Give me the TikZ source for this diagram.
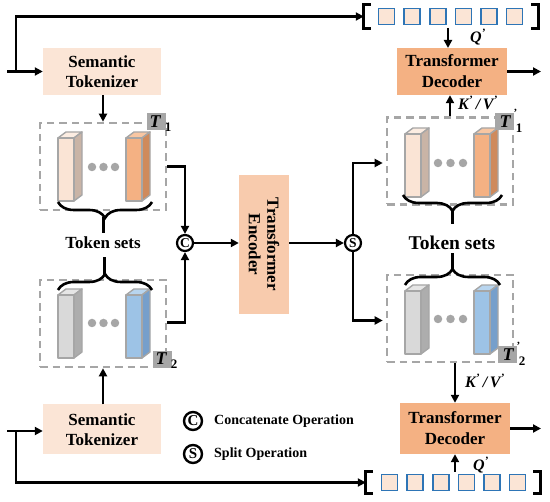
\documentclass[tikz,border=0pt]{standalone}
\usepackage{fontspec}
\setmainfont{Liberation Serif}
\usetikzlibrary{arrows.meta,decorations.pathreplacing,calc}
\definecolor{peach}{HTML}{FBE5D6}
\definecolor{encfill}{HTML}{F8CBAD}
\definecolor{decfill}{HTML}{F4B183}
\definecolor{dgray}{HTML}{A6A6A6}
\definecolor{sqblue}{HTML}{2E75B6}
\definecolor{lfront}{HTML}{FAE4D5}
\definecolor{lside}{HTML}{C9B4A6}
\definecolor{ltop}{HTML}{FCEDE2}
\definecolor{ofront}{HTML}{F4B183}
\definecolor{oside}{HTML}{CF8A5C}
\definecolor{otop}{HTML}{F8C6A2}
\definecolor{gfront}{HTML}{D9D9D9}
\definecolor{gside}{HTML}{ADADAD}
\definecolor{gtop}{HTML}{E6E6E6}
\definecolor{bfront}{HTML}{9DC3E6}
\definecolor{bside}{HTML}{769FCB}
\definecolor{btop}{HTML}{B8D5EF}
\newcommand{\tokbar}[5]{%
  \filldraw[barline, fill=#5] (#1,#2) -- ++(8,-6) -- ++(16,0) -- ++(-8,6) -- cycle;
  \filldraw[barline, fill=#4] (#1+16,#2) -- ++(8,-6) -- ++(0,63) -- ++(-8,6) -- cycle;
  \filldraw[barline, fill=#3] (#1,#2) rectangle ++(16,63);
}
\begin{document}
\begin{tikzpicture}[x=1pt,y=-1pt,
  conn/.style={line width=2.6pt, -{Triangle[length=8pt,width=8pt]}},
  plain/.style={line width=2.6pt},
  barline/.style={draw=dgray, line width=1.4pt, line join=round},
  tokbox/.style={fill=peach, minimum width=118pt, minimum height=47pt, inner sep=0pt, align=center,
     font=\bfseries\fontsize{17}{20}\selectfont},
  decbox/.style={fill=decfill, minimum width=110pt, minimum height=47pt, inner sep=0pt, align=center,
     font=\bfseries\fontsize{17}{21}\selectfont},
  dashbox/.style={draw=dgray, dash pattern=on 7.5pt off 5pt, line width=2.6pt, minimum width=126pt,
     minimum height=87pt, inner sep=0pt},
  opcirc/.style={circle, draw, line width=2.2pt, minimum size=16pt, inner sep=0pt,
     font=\bfseries\fontsize{13.5}{13.5}\selectfont},
  tgray/.style={fill=dgray, minimum width=19pt, minimum height=17pt, inner sep=0pt},
  tletter/.style={font=\bfseries\itshape\fontsize{18}{18}\selectfont, inner sep=0pt},
  tsub/.style={font=\bfseries\fontsize{13}{13}\selectfont, inner sep=0pt},
  tprime/.style={font=\bfseries\fontsize{11}{11}\selectfont, inner sep=0pt},
  kv/.style={font=\bfseries\itshape\fontsize{16}{16}\selectfont, inner sep=0pt},
  sq/.style={draw=sqblue, fill=peach, line width=1.6pt, minimum size=16pt, inner sep=0pt},
  brk/.style={line width=3.2pt},
  brc/.style={line width=2.6pt, decorate, decoration={brace, amplitude=16pt}},
  dot/.style={circle, fill=dgray, minimum size=8.5pt, inner sep=0pt},
  legtxt/.style={font=\bfseries\fontsize{14}{14}\selectfont, anchor=west, inner sep=0pt}
]
\useasboundingbox (0,0) rectangle (550,502);

% ---------- main boxes ----------
\node[tokbox] (tok1) at (102,71.5) {Semantic\\Tokenizer};
\node[tokbox, minimum height=50pt] (tok2) at (102,429.5) {Semantic\\Tokenizer};
\node[dashbox] (T1) at (103,166.5) {};
\node[dashbox] (T2) at (103,323.5) {};
\node[dashbox] (T1p) at (450,161) {};
\node[dashbox] (T2p) at (450,318.5) {};
\node[fill=encfill, minimum width=50pt, minimum height=139pt, inner sep=0pt] (enc) at (264,244.5) {};
\node[rotate=-90, align=center, font=\bfseries\fontsize{17}{18.5}\selectfont] (enctxt) at (enc.center) {Transformer\\Encoder};
\node[decbox] (dec1) at (452,71.5) {Transformer\\Decoder};
\node[decbox, minimum height=51pt] (dec2) at (455,428.5) {Transformer\\Decoder};
\node[opcirc] (cc) at (185,243) {C};
\node[opcirc] (ss) at (353,243) {S};

% ---------- bars ----------
\tokbar{58}{138}{lfront}{lside}{ltop}
\tokbar{126}{138}{ofront}{oside}{otop}
\tokbar{58}{295}{gfront}{gside}{gtop}
\tokbar{126}{295}{bfront}{bside}{btop}
\tokbar{405}{134}{lfront}{lside}{ltop}
\tokbar{474}{134}{ofront}{oside}{otop}
\tokbar{405}{291}{gfront}{gside}{gtop}
\tokbar{474}{291}{bfront}{bside}{btop}
\foreach \yy/\xx [count=\i] in {167/92,167/103.5,167/115,323/92,323/103.5,323/115,163/438,163/450.5,163/463,319/438,319/450.5,319/463}
  \node[dot] (dot\i) at (\xx,\yy) {};

% ---------- T labels ----------
\node[tgray] (t1g) at (156.5,121.5) {};
\node[tletter] (t1T) at (155,121.5) {T};
\node[tsub] (t1s) at (168,127) {1};
\node[tgray] (t2g) at (162,360) {};
\node[tletter] (t2T) at (161,358.5) {T};
\node[tsub] (t2s) at (174,364) {2};
\node[tgray] (t1pg) at (504,122) {};
\node[tletter] (t1pT) at (505,122) {T};
\node[tprime] (t1pp) at (515.5,113) {'};
\node[tsub] (t1ps) at (519,128) {1};
\node[tgray] (t2pg) at (507,355) {};
\node[tletter] (t2pT) at (508,355) {T};
\node[tprime] (t2pp) at (518.5,346) {'};
\node[tsub] (t2ps) at (522,361) {2};

% ---------- braces ----------
\draw[brc] (152,202) -- (58,202);
\draw[plain] (103.5,217) -- (103.5,233);
\draw[brc] (58,290) -- (152,290);
\draw[plain] (104.5,275) -- (104.5,257);
\draw[brc] (502,195) -- (403,195);
\draw[plain] (452.5,210) -- (452.5,224);
\draw[brc] (405,285) -- (500,285);
\draw[plain] (452.5,270) -- (452.5,253);
\node[font=\bfseries\fontsize{17}{17}\selectfont] (ts1) at (103,243) {Token sets};
\node[font=\bfseries\fontsize{19.5}{19.5}\selectfont] (ts2) at (452,243) {Token sets};

% ---------- brackets with query squares ----------
\node[minimum width=174pt, minimum height=23pt, inner sep=0pt] (topbr) at (451,16.5) {};
\node[minimum width=174pt, minimum height=21pt, inner sep=0pt] (botbr) at (453,482.5) {};
\foreach \b in {topbr,botbr}{
  \draw[brk] ($(\b.north west)+(7,0)$) -- (\b.north west) -- (\b.south west) -- ++(7,0);
  \draw[brk] ($(\b.north east)+(-7,0)$) -- (\b.north east) -- (\b.south east) -- ++(-7,0);
}
\foreach \k in {0,...,5}{
  \node[sq] (qa\k) at (386.5+25.6*\k,16.5) {};
  \node[sq] (qb\k) at (389.5+25.6*\k,482.5) {};
}

% ---------- connectors ----------
\coordinate (in1) at (7,71.5);
\coordinate (br1) at (16,71.5);
\coordinate (in2) at (7,431);
\coordinate (br2) at (16,431);
\draw[conn] (in1) -- (tok1.west);
\draw[conn] (br1) |- (topbr.west);
\draw[conn] (in2) -- (tok2.west |- in2);
\draw[conn] (br2) |- (botbr.west);
\draw[conn] (tok1.south -| T1.north) -- (T1.north);
\draw[conn] (tok2.north -| T2.south) -- (T2.south);
\draw[conn] (T1.east) -| (cc.north);
\draw[conn] ($(T2.east)+(0,-1)$) -| (cc.south);
\draw[conn] (cc.east) -- (enc.west |- cc.east);
\draw[conn] (enc.east |- ss.west) -- (ss.west);
\draw[conn] (ss.north) |- ($(T1p.west)+(-3,2)$);
\draw[conn] (ss.south) |- ($(T2p.west)+(-3,2)$);
\draw[conn] (448,28) -- (448,48);
\draw[conn] (T1p.north) -- (dec1.south -| T1p.north);
\draw[conn] (T2p.south -| dec2.north) -- (dec2.north);
\draw[conn] (botbr.north -| dec2.south) -- (dec2.south);
\coordinate (out1) at (541,71.5);
\coordinate (out2) at (541,428.5);
\draw[conn] (dec1.east) -- (out1);
\draw[conn] (dec2.east) -- (out2);

% ---------- Q and K/V labels ----------
\node[kv] (q1) at (478,37) {Q\textsuperscript{'}};
\node[kv] (kv1) at (478,103) {K\textsuperscript{'}\,/\,V\textsuperscript{'}};
\node[kv] (kv2) at (485,381) {K\textsuperscript{'}\,/\,V\textsuperscript{'}};
\node[kv] (q2) at (481,465) {Q\textsuperscript{'}};

% ---------- legend ----------
\node[opcirc, minimum size=18pt, line width=2.4pt, font=\bfseries\fontsize{15}{15}\selectfont] (lc) at (193,421) {C};
\node[legtxt] (lct) at (214,421) {Concatenate Operation};
\node[opcirc, minimum size=18pt, line width=2.4pt, font=\bfseries\fontsize{15}{15}\selectfont] (ls) at (193,454) {S};
\node[legtxt] (lst) at (214,454) {Split Operation};
\end{tikzpicture}
\end{document}
